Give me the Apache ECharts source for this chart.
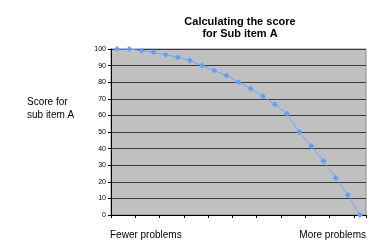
<!DOCTYPE html>
<html><head><meta charset="utf-8">
<script src="https://cdn.jsdelivr.net/npm/echarts@6/dist/echarts.min.js"></script>
<style>html,body{margin:0;padding:0;background:#fff}#c{width:384px;height:252px}</style>
</head><body><div id="c"></div>
<script>
const categories = ['1','2','3','4','5','6','7','8','9','10','11','12','13','14','15','16','17','18','19','20','21'];
const scores = [100, 100, 99, 98, 96.5, 95, 93, 90, 87, 84, 80, 76, 71.5, 66.5, 61, 50, 41.5, 32.5, 22.5, 12, 0];
const titleText = 'Calculating the score\nfor Sub item A';
const yName = 'Score for\nsub item A';
const leftLabel = 'Fewer problems';
const rightLabel = 'More problems';

const chart = echarts.init(document.getElementById('c'), null, {renderer: 'canvas'});
chart.setOption({
  backgroundColor: '#fff',
  animation: false,
  title: {
    text: titleText, left: 235, top: 11, textAlign: 'center',
    textStyle: {fontFamily: 'Liberation Sans', fontSize: 11, fontWeight: 'bold', color: '#000', lineHeight: 12}
  },
  grid: {left: 111, right: 18, top: 49, bottom: 37, show: true, backgroundColor: '#c0c0c0', borderColor: '#888', borderWidth: 1},
  xAxis: {
    type: 'category', data: categories, boundaryGap: true,
    axisLine: {lineStyle: {color: '#000', width: 1}},
    axisTick: {show: true, length: 3, inside: false, alignWithLabel: false, lineStyle: {color: '#000'}},
    axisLabel: {show: false}, splitLine: {show: false}
  },
  yAxis: {
    type: 'value', min: 0, max: 100, interval: 10,
    axisLine: {show: true, lineStyle: {color: '#000', width: 1}},
    axisTick: {show: true, length: 3, lineStyle: {color: '#000'}},
    axisLabel: {fontFamily: 'Liberation Sans', fontSize: 7, color: '#000', margin: 5},
    splitLine: {show: true, lineStyle: {color: '#3a3a3a', width: 1}}
  },
  graphic: [
    {type: 'text', left: 27, top: 96, style: {text: yName, font: '10px "Liberation Sans"', fill: '#000', lineHeight: 13}},
    {type: 'text', left: 110, top: 230, style: {text: leftLabel, font: '10px "Liberation Sans"', fill: '#000'}},
    {type: 'text', right: 18, top: 230, style: {text: rightLabel, font: '10px "Liberation Sans"', fill: '#000'}}
  ],
  series: [{
    type: 'line', data: scores,
    lineStyle: {color: '#6aa8ff', width: 1},
    itemStyle: {color: '#5f9eff'},
    symbol: 'diamond', symbolSize: 6, showSymbol: true
  }]
});
</script></body></html>
